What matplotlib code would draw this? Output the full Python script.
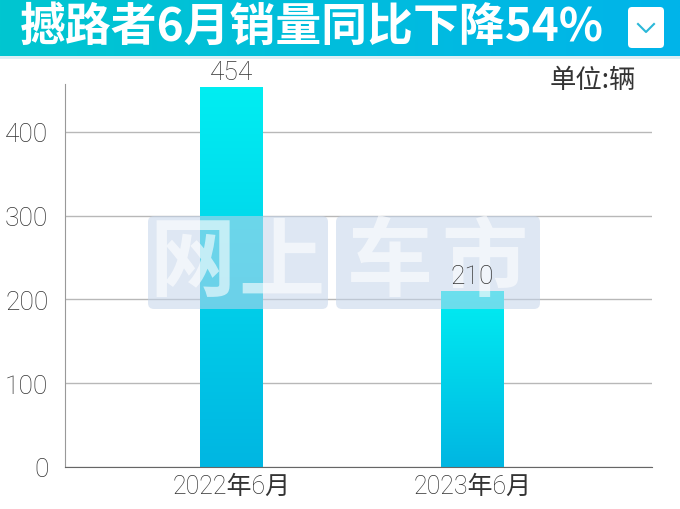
import numpy as np
import matplotlib
matplotlib.use("Agg")
import matplotlib.pyplot as plt
from matplotlib.patches import FancyBboxPatch
from matplotlib.colors import LinearSegmentedColormap

plt.rcParams['font.family'] = ['Noto Sans CJK SC', 'DejaVu Sans']
THIN = ['Roboto', 'Noto Sans CJK SC']

title = "撼路者6月销量同比下降54%"
unit = "单位:辆"
categories = ["2022年6月", "2023年6月"]
sales = [454, 210]
yticks = [0, 100, 200, 300, 400]
watermark = ["网", "上", "车", "市"]

fig = plt.figure(figsize=(6.8, 5.1), dpi=100)

# title banner with horizontal gradient
bax = fig.add_axes([0, 1 - 57 / 510, 1, 57 / 510])
banner = LinearSegmentedColormap.from_list("banner", ["#00c6d0", "#00b4ea"])
bax.imshow(np.linspace(0, 1, 256)[None, :], aspect="auto", cmap=banner, extent=[0, 680, 0, 57])
bax.set_xlim(0, 680)
bax.set_ylim(0, 57)
bax.axis("off")
bax.text(20, 29, title, color="white", fontsize=33, fontweight="bold", va="center", ha="left")
bax.add_patch(FancyBboxPatch((628, 8), 36, 41, boxstyle="round,pad=0,rounding_size=4",
                             fc="white", ec="none"))
bax.plot([638, 646, 654], [32, 24, 32], color="#2ab8d8", lw=1.5)
fig.add_artist(plt.Line2D([0, 1], [1 - 58 / 510] * 2, color="#d8eef4", lw=2))

ax = fig.add_axes([65 / 680, 42 / 510, 587 / 680, 383 / 510])
x = np.arange(len(categories))
w = 0.26
bars = ax.bar(x, sales, width=w, color="none", zorder=2)
grad = LinearSegmentedColormap.from_list("bar", ["#00b6e2", "#00eef2"])
for b in bars:
    x0 = b.get_x()
    im = ax.imshow(np.linspace(0, 1, 256)[:, None], origin="lower", aspect="auto", cmap=grad,
                   extent=[x0, x0 + b.get_width(), 0, b.get_height()], zorder=2)
    im.set_clip_path(b)

ax.set_xlim(-0.69, 1.745)
ax.set_ylim(0, 457)
ax.set_yticks(yticks)
ax.set_yticklabels([str(t) for t in yticks], fontsize=19, color="#333333",
                   family=THIN, fontweight="light")
ax.set_xticks(x)
ax.set_xticklabels(categories, fontsize=18, color="#333333", family=THIN, fontweight="light")
ax.tick_params(length=0, pad=12)
ax.tick_params(axis="x", pad=5)
ax.yaxis.grid(True, color="#b8b8b8", lw=1)
ax.set_axisbelow(True)
for s in ["top", "right"]:
    ax.spines[s].set_visible(False)
ax.spines["left"].set_color("#999999")
ax.spines["bottom"].set_color("#666666")

# watermark, drawn over the bars
wm = fig.add_axes([0, 0, 1, 1], zorder=5)
wm.set_xlim(0, 680)
wm.set_ylim(510, 0)
wm.axis("off")
wm.add_patch(FancyBboxPatch((148, 217), 180, 93, boxstyle="round,pad=0,rounding_size=6",
                            fc="#c4d4ea", ec="none", alpha=0.55))
wm.add_patch(FancyBboxPatch((336, 217), 204, 93, boxstyle="round,pad=0,rounding_size=6",
                            fc="#c4d4ea", ec="none", alpha=0.55))
for cx, ch in zip([192, 281, 390, 484], watermark):
    wm.text(cx, 264, ch, ha="center", va="center", fontsize=62, fontweight="bold",
            color="white", alpha=0.6)

# value labels on top of the watermark, placed in data coords of the chart
for xi, v in zip(x, sales):
    wm.annotate(str(v), (xi, v), xycoords=ax.transData, xytext=(0, 2),
                textcoords="offset points", ha="center", va="bottom", fontsize=19,
                color="#333333", family=THIN, fontweight="light", zorder=10)

fig.text(636 / 680, 1 - 80 / 510, unit, ha="right", va="center", fontsize=19, color="#333333",
         zorder=10)

fig.savefig("out.png", dpi=100)
